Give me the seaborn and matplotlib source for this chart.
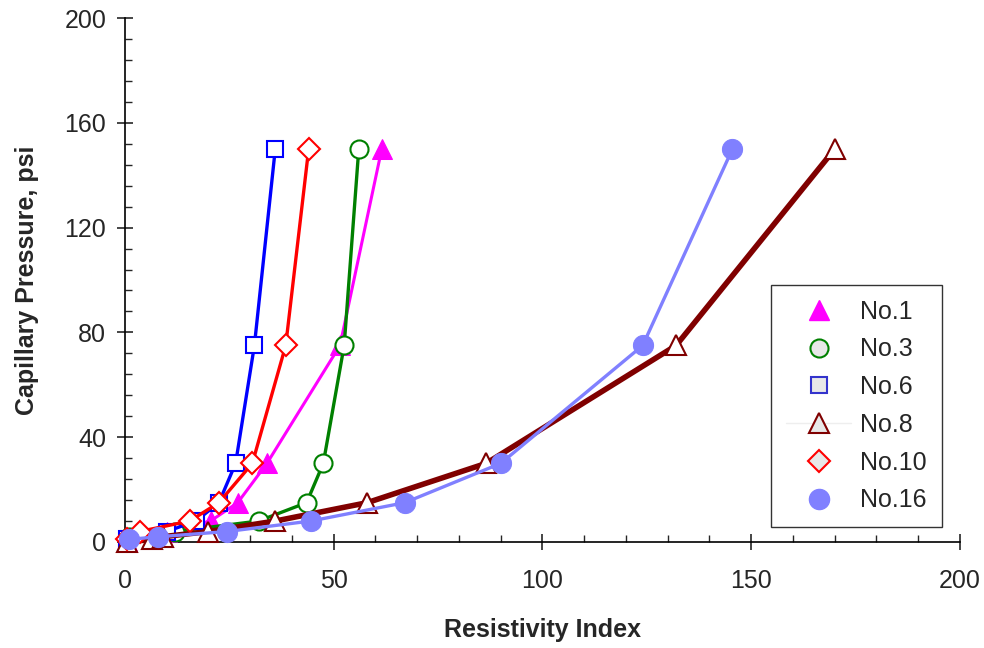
import numpy as np
import pandas as pd
import seaborn as sns
import matplotlib.pyplot as plt
from matplotlib.lines import Line2D
from matplotlib.ticker import MultipleLocator

# data (x = resistivity index, y = capillary pressure, psi)
ri_1 = [0.5, 10, 20.5, 27, 34, 51.5, 61.5]
pc_1 = [0.5, 4, 8, 15, 30, 75, 150]
ri_3 = [1, 12, 32, 43.5, 47.5, 52.5, 56]
pc_3 = [2, 4, 8, 15, 30, 75, 150]
ri_6 = [0.5, 10, 17, 22.5, 26.5, 31, 36]
pc_6 = [1, 4, 8, 15, 30, 75, 150]
ri_8 = [0.5, 6.5, 9, 20, 36, 58, 86.5, 132, 170]
pc_8 = [0, 1, 2, 4, 8, 15, 30, 75, 150]
ri_10 = [0.5, 3.5, 15.5, 22.5, 30.5, 38.5, 44]
pc_10 = [1, 4, 8, 15, 30, 75, 150]
ri_16 = [1, 8, 24.5, 44.5, 67, 90, 124, 145.5]
pc_16 = [1, 2, 4, 8, 15, 30, 75, 150]

labels = ["No.1", "No.3", "No.6", "No.8", "No.10", "No.16"]

sns.set_style("white")
plt.rcParams['font.family'] = ['Liberation Sans', 'DejaVu Sans']

fig = plt.figure(figsize=(9.84, 6.48), dpi=100)
ax = fig.add_axes([0.127, 0.1636, 0.8486, 0.8086])

series = [
    (ri_1, pc_1, dict(color='#FF00FF', lw=2.2, marker='^', ms=15, mfc='#FF00FF', mec='#FF00FF')),
    (ri_3, pc_3, dict(color='#008000', lw=2.4, marker='o', ms=13, mfc='white', mec='#008000', mew=1.5)),
    (ri_6, pc_6, dict(color='#0000FF', lw=2.4, marker='s', ms=11, mfc='white', mec='#0000FF', mew=1.5)),
    (ri_8, pc_8, dict(color='#800000', lw=4, marker='^', ms=15, mfc='white', mec='#800000', mew=1.5)),
    (ri_10, pc_10, dict(color='#FF0000', lw=2.4, marker='D', ms=11, mfc='white', mec='#FF0000', mew=1.5)),
    (ri_16, pc_16, dict(color='#8080FF', lw=2.4, marker='o', ms=14.5, mfc='#8080FF', mec='#8080FF')),
]

for (x, y, kw), lab in zip(series, labels):
    df = pd.DataFrame({'x': x, 'y': y})
    sns.lineplot(data=df, x='x', y='y', ax=ax, sort=False, estimator=None,
                 clip_on=False, zorder=3, **kw)

ax.set_xlim(0, 200)
ax.set_ylim(0, 200)
ax.xaxis.set_major_locator(MultipleLocator(50))
ax.xaxis.set_minor_locator(MultipleLocator(10))
ax.yaxis.set_major_locator(MultipleLocator(40))
ax.yaxis.set_minor_locator(MultipleLocator(8))
ax.tick_params(which='major', direction='inout', length=11, width=1.2,
               labelsize=18, bottom=True, left=True)
ax.tick_params(axis='x', which='major', pad=14)
ax.tick_params(axis='y', which='major', pad=8)
ax.tick_params(which='minor', direction='in', length=5, width=1,
               bottom=True, left=True)
for s in ['top', 'right']:
    ax.spines[s].set_visible(False)
for s in ['left', 'bottom']:
    ax.spines[s].set_color('black')
    ax.spines[s].set_linewidth(1.2)

ax.set_xlabel("Resistivity Index", fontsize=18, fontweight='bold', labelpad=18)
ax.set_ylabel("Capillary Pressure, psi", fontsize=18, fontweight='bold', labelpad=18)

handles = [
    Line2D([], [], ls='none', marker='^', ms=15, mfc='#FF00FF', mec='#FF00FF'),
    Line2D([], [], ls='none', marker='o', ms=13, mfc='#E8E8E8', mec='#008000', mew=1.5),
    Line2D([], [], ls='none', marker='s', ms=11, mfc='#E8E8E8', mec='#3333CC', mew=1.5),
    Line2D([], [], color='#EEEEEE', lw=1, marker='^', ms=15, mfc='#E8E8E8', mec='#800000', mew=1.5),
    Line2D([], [], ls='none', marker='D', ms=11, mfc='#E8E8E8', mec='#FF0000', mew=1.5),
    Line2D([], [], ls='none', marker='o', ms=14.5, mfc='#8080FF', mec='#8080FF'),
]
leg = ax.legend(handles, labels, loc='lower right', bbox_to_anchor=(0.978, 0.028),
                fontsize=18, frameon=True, fancybox=False, edgecolor='black',
                labelspacing=0.55, handlelength=2.6, borderpad=0.6,
                handletextpad=0.35, borderaxespad=0)
leg.get_frame().set_linewidth(1.0)

plt.savefig('out.png', dpi=100)
